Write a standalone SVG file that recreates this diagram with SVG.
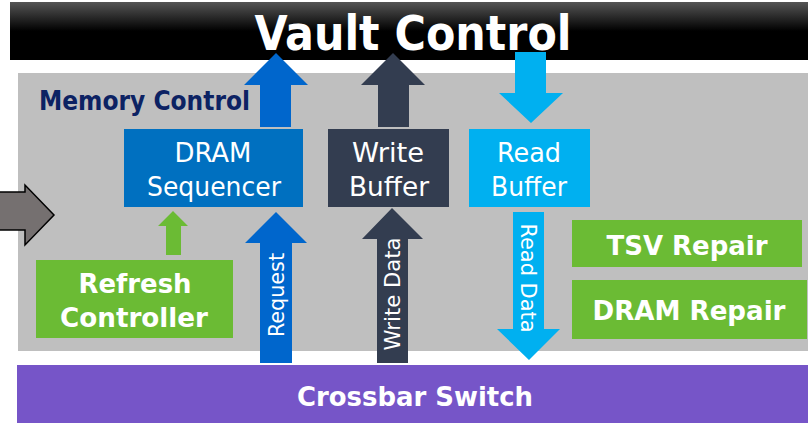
<svg xmlns="http://www.w3.org/2000/svg" width="808" height="423" viewBox="0 0 808 423">
  <defs>
    <linearGradient id="barGrad" x1="0" y1="0" x2="0" y2="1">
      <stop offset="0" stop-color="#555555"/>
      <stop offset="0.5" stop-color="#000000"/>
      <stop offset="1" stop-color="#000000"/>
    </linearGradient>
  </defs>
  <style>
    .lbl { font-family: "DejaVu Sans Condensed", "DejaVu Sans", "Liberation Sans", sans-serif; fill: #ffffff; text-anchor: middle; }
    .bold { font-weight: bold; }
    .reg { font-weight: normal; }
    .blue { fill: #0066cc; }
    .dark { fill: #333d50; }
    .cyan { fill: #00b0f0; }
    .green { fill: #6bbb34; }
  </style>

  <rect width="808" height="423" fill="#ffffff"/>

  <!-- Vault Control bar -->
  <g id="vault-control">
    <rect x="10" y="2" width="798" height="58" fill="url(#barGrad)"/>
    <text class="lbl bold" x="413" y="50" font-size="48" textLength="317" lengthAdjust="spacingAndGlyphs">Vault Control</text>
  </g>

  <!-- Memory Control region -->
  <g id="memory-control">
    <rect x="18" y="73" width="790" height="278" fill="#bfbfbf"/>
    <text x="39" y="110" font-family="DejaVu Sans Condensed, DejaVu Sans, sans-serif" font-weight="bold" font-size="27" fill="#0c2263" textLength="211" lengthAdjust="spacingAndGlyphs">Memory Control</text>
  </g>

  <!-- Crossbar Switch -->
  <g id="crossbar-switch">
    <rect x="17" y="365" width="791" height="58" fill="#7655c8"/>
    <text class="lbl bold" x="415" y="406" font-size="26" textLength="236" lengthAdjust="spacingAndGlyphs">Crossbar Switch</text>
  </g>

  <!-- Connectors -->
  <g id="connectors">
    <!-- incoming arrow from the left -->
    <polygon points="-2,192 25,192 25,185 54,215 25,245 25,230 -2,230" fill="#757070" stroke="#000000" stroke-width="1.5"/>
    <!-- DRAM Sequencer to Vault Control -->
    <polygon class="blue" points="260,127 260,85 244,85 276,53 308,85 291,85 291,127"/>
    <!-- Write Buffer to Vault Control -->
    <polygon class="dark" points="378,127 378,85 361,85 393,53 425,85 409,85 409,127"/>
    <!-- Vault Control to Read Buffer -->
    <polygon class="cyan" points="515,52 546,52 546,93 563,93 531,123 499,93 515,93"/>
    <!-- Refresh Controller to DRAM Sequencer -->
    <polygon class="green" points="166,255 166,226 158,226 173,211 188,226 181,226 181,255"/>
    <!-- Request -->
    <polygon class="blue" points="260,363 260,243 245,243 276,212 307,243 292,243 292,363"/>
    <text class="lbl reg" transform="translate(284,295) rotate(-90)" font-size="22" textLength="84" lengthAdjust="spacingAndGlyphs">Request</text>
    <!-- Write Data -->
    <polygon class="dark" points="377,363 377,239 362,239 392,208 423,239 408,239 408,363"/>
    <text class="lbl reg" transform="translate(400,294) rotate(-90)" font-size="22" textLength="113" lengthAdjust="spacingAndGlyphs">Write Data</text>
    <!-- Read Data -->
    <polygon class="cyan" points="513,212 544,212 544,329 560,329 529,360 497,329 513,329"/>
    <text class="lbl reg" transform="translate(521,278) rotate(90)" font-size="22" textLength="109" lengthAdjust="spacingAndGlyphs">Read Data</text>
  </g>

  <!-- DRAM Sequencer -->
  <g id="dram-sequencer">
    <rect x="124" y="129" width="179" height="78" fill="#0070c0"/>
    <text class="lbl reg" x="213" y="162" font-size="26" textLength="77" lengthAdjust="spacingAndGlyphs">DRAM</text>
    <text class="lbl reg" x="214" y="196" font-size="26" textLength="134" lengthAdjust="spacingAndGlyphs">Sequencer</text>
  </g>

  <!-- Write Buffer -->
  <g id="write-buffer">
    <rect x="328" y="129" width="121" height="78" fill="#333d50"/>
    <text class="lbl reg" x="388" y="162" font-size="26" textLength="72" lengthAdjust="spacingAndGlyphs">Write</text>
    <text class="lbl reg" x="389" y="196" font-size="26" textLength="80" lengthAdjust="spacingAndGlyphs">Buffer</text>
  </g>

  <!-- Read Buffer -->
  <g id="read-buffer">
    <rect x="469" y="129" width="121" height="78" fill="#00b0f0"/>
    <text class="lbl reg" x="529" y="162" font-size="26" textLength="64" lengthAdjust="spacingAndGlyphs">Read</text>
    <text class="lbl reg" x="529" y="196" font-size="26" textLength="76" lengthAdjust="spacingAndGlyphs">Buffer</text>
  </g>

  <!-- Refresh Controller -->
  <g id="refresh-controller">
    <rect x="36" y="260" width="197" height="78" fill="#6bbb34"/>
    <text class="lbl bold" x="135" y="293" font-size="26" textLength="113" lengthAdjust="spacingAndGlyphs">Refresh</text>
    <text class="lbl bold" x="134" y="327" font-size="26" textLength="148" lengthAdjust="spacingAndGlyphs">Controller</text>
  </g>

  <!-- TSV Repair -->
  <g id="tsv-repair">
    <rect x="572" y="220" width="230" height="47" fill="#6bbb34"/>
    <text class="lbl bold" x="687" y="255" font-size="26" textLength="161" lengthAdjust="spacingAndGlyphs">TSV Repair</text>
  </g>

  <!-- DRAM Repair -->
  <g id="dram-repair">
    <rect x="572" y="280" width="235" height="59" fill="#6bbb34"/>
    <text class="lbl bold" x="689" y="320" font-size="26" textLength="193" lengthAdjust="spacingAndGlyphs">DRAM Repair</text>
  </g>
</svg>
